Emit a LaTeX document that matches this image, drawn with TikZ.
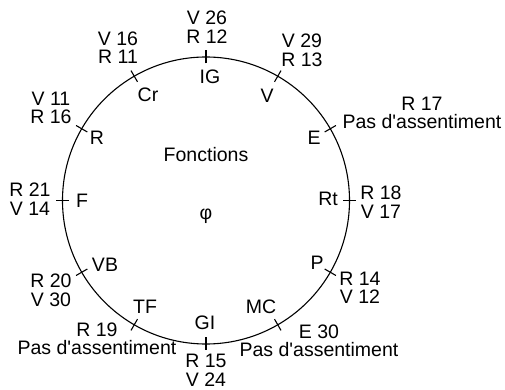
\documentclass[tikz,border=0pt]{standalone}
\usepackage{fontspec}
\setmainfont{Liberation Sans}
\usepackage{tikz}

\begin{document}
\begin{tikzpicture}[
  x=1pt, y=1pt,
  lab/.style={font=\fontsize{19.5}{18.5}\selectfont, inner sep=0pt},
  val/.style={lab, align=center},
  marque/.style={line width=1.1pt},
  rond/.style={line width=1.1pt}
]
  \useasboundingbox (0,0) rectangle (505,390);

  % Cercle et graduations (tous les 30 degres)
  \coordinate (centre) at (206,189.5);
  \draw[rond] (centre) circle[radius=143.5];
  \foreach \a in {0,30,...,330}
    \draw[marque, shift={(centre)}] (\a:137) -- (\a:150);

  % Centre
  \node[lab] (fonctions) at (206,235) {Fonctions};
  \node[lab] (phi)       at (206,174) {φ};

  % Noms des fonctions (interieur)
  \node[lab] (ig) at (210,313) {IG};
  \node[lab] (v)  at (267,294) {V};
  \node[lab] (e)  at (314,252) {E};
  \node[lab] (rt) at (328,191) {Rt};
  \node[lab] (p)  at (317,127) {P};
  \node[lab] (mc) at (261,83)  {MC};
  \node[lab] (gi) at (205,67)  {GI};
  \node[lab] (tf) at (145,83)  {TF};
  \node[lab] (vb) at (105,125) {VB};
  \node[lab] (f)  at (82,189)  {F};
  \node[lab] (r)  at (97,252)  {R};
  \node[lab] (cr) at (148,295) {Cr};

  % Valeurs (exterieur)
  \node[val] (vig) at (207,363)   {V 26\\R 12};
  \node[val] (vv)  at (302,339.5) {V 29\\R 13};
  \node[val] (ve)  at (422,277)   {R 17\\Pas d\textquotesingle assentiment};
  \node[val] (vrt) at (381,188)   {R 18\\V 17};
  \node[val] (vp)  at (360,102)   {R 14\\V 12};
  \node[val] (vmc) at (319,49)    {E 30\\Pas d\textquotesingle assentiment};
  \node[val] (vgi) at (206,19.5)  {R 15\\V 24};
  \node[val] (vtf) at (97,51)     {R 19\\Pas d\textquotesingle assentiment};
  \node[val] (vvb) at (51,99.5)   {R 20\\V 30};
  \node[val] (vf)  at (30,191)    {R 21\\V 14};
  \node[val] (vr)  at (51,282)    {V 11\\R 16};
  \node[val] (vcr) at (118,342.5) {V 16\\R 11};
\end{tikzpicture}
\end{document}
